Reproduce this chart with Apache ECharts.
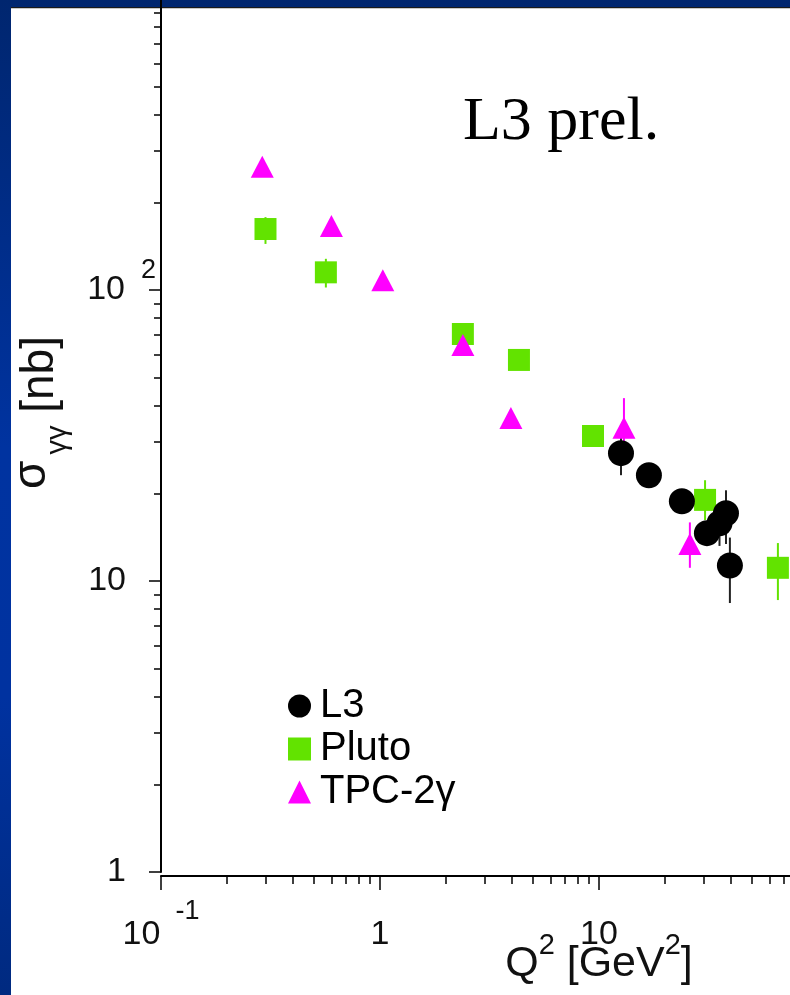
<!DOCTYPE html>
<html>
<head>
<meta charset="utf-8">
<script src="https://cdn.jsdelivr.net/npm/echarts@6/dist/echarts.min.js"></script>
<style>
  html, body { margin: 0; padding: 0; width: 790px; height: 995px; overflow: hidden;
    background: linear-gradient(to bottom, #00266f 0%, #0033a0 45%, #0032a0 70%, #002a80 100%); }
  #panel { position: absolute; left: 11px; top: 7px; width: 779px; height: 988px; background: #fff;
    border-top: 1px solid #1a1a1a; box-shadow: inset 0 1px 0 #c8c8c8; }
  #chart { position: absolute; left: 0; top: 0; width: 790px; height: 995px; }
</style>
</head>
<body>
<div id="panel"></div>
<div id="chart"></div>
<script>
// sigma_gamma-gamma [nb] versus Q^2 [GeV^2]
const l3Q      = [12.6, 16.9, 23.9, 31.1, 35.5, 38.0, 39.6];
const l3Sigma  = [27.5, 23.1, 18.8, 14.6, 15.8, 17.1, 11.3];
const l3Lo     = [23.1, null, null, 13.3, 13.2, 13.4, 8.4];
const l3Hi     = [31.3, null, null, 16.0, 18.5, 20.5, 14.1];

const plutoQ     = [0.30, 0.566, 2.39, 4.31, 9.39, 30.5, 65.6];
const plutoSigma = [162, 115, 70.6, 57.5, 31.5, 19.0, 11.1];
const plutoLo    = [144, 102, null, null, null, 16.2, 8.6];
const plutoHi    = [178, 128, null, null, null, 22.2, 13.5];

const tpcQ     = [0.29, 0.60, 1.03, 2.39, 3.96, 13.0, 26.0];
const tpcSigma = [265, 166, 108, 64.7, 36.3, 33.6, 13.4];
const tpcLo    = [null, null, null, null, 33.5, 26.5, 11.1];
const tpcHi    = [null, null, null, null, 39.0, 42.5, 15.9];

// axis tick labels: mantissa text and exponent text
const xLabelValues = [0.1, 1, 10];
const xLabelBase   = ['10', '1', '10'];
const xLabelExp    = ['-1', '', ''];
const yLabelValues = [1, 10, 100];
const yLabelBase   = ['1', '10', '10'];
const yLabelExp    = ['', '', '2'];

const FONT = '"Liberation Sans", Arial, sans-serif';
const BLACK = '#000000', GREEN = '#62e300', MAGENTA = '#ff00ff';

function labelIndex(values, v) {
  for (let i = 0; i < values.length; i++) {
    if (Math.abs(Math.log10(v) - Math.log10(values[i])) < 1e-6) return i;
  }
  return -1;
}

function errorBars(name, q, lo, hi, color) {
  const rows = [];
  q.forEach((v, i) => { if (lo[i] != null) rows.push([v, lo[i], hi[i]]); });
  return {
    type: 'custom', name: name, z: 1, silent: true, data: rows,
    encode: { x: 0, y: [1, 2] },
    renderItem(params, api) {
      const a = api.coord([api.value(0), api.value(1)]);
      const b = api.coord([api.value(0), api.value(2)]);
      return { type: 'line', shape: { x1: a[0], y1: a[1], x2: b[0], y2: b[1] },
               style: { stroke: color, lineWidth: 2 } };
    }
  };
}

const zip = (a, b) => a.map((v, i) => [v, b[i]]);

const chart = echarts.init(document.getElementById('chart'), null, { renderer: 'canvas' });
chart.setOption({
  animation: false,
  textStyle: { fontFamily: FONT },
  grid: { left: 161, top: -1, width: 876, height: 873, containLabel: false, outerBoundsMode: 'none' },
  xAxis: {
    type: 'log', logBase: 10, min: 0.1, max: 1000, offset: 4,
    name: '{m|Q}{s|2}{m| [GeV}{s|2}{m|]}',
    nameLocation: 'middle', nameGap: 67, nameMoveOverlap: false,
    nameTextStyle: {
      rich: {
        m: { fontFamily: FONT, fontSize: 43, lineHeight: 43, color: '#111', padding: [14, 0, 14, 0] },
        s: { fontFamily: FONT, fontSize: 29, lineHeight: 29, color: '#111', padding: [2, 0, 40, 0] }
      }
    },
    axisLine: { show: true, lineStyle: { color: BLACK, width: 2 } },
    axisTick: { show: true, inside: false, length: 14, lineStyle: { color: BLACK, width: 1.5 } },
    minorTick: { show: true, splitNumber: 9, length: 8, lineStyle: { color: BLACK, width: 1.5 } },
    splitLine: { show: false },
    minorSplitLine: { show: false },
    axisLabel: {
      margin: 32, color: '#111',
      formatter: (v) => {
        const i = labelIndex(xLabelValues, v);
        if (i < 0) return '';
        return '{m|' + xLabelBase[i] + '}' + (xLabelExp[i] ? '{s|' + xLabelExp[i] + '}' : '');
      },
      rich: {
        m: { fontFamily: FONT, fontSize: 34, lineHeight: 34, color: '#111', padding: [20, 0, 0, 0] },
        s: { fontFamily: FONT, fontSize: 27, lineHeight: 27, color: '#111', padding: [0, 0, 27, 15] }
      }
    }
  },
  yAxis: {
    type: 'log', logBase: 10, min: 1, max: 1000,
    name: '{g|σ}{sub|γγ}{m| [nb]}',
    nameLocation: 'middle', nameRotate: 90, nameGap: 98, nameMoveOverlap: false,
    nameTextStyle: {
      padding: [0, 0, 0, 46],
      rich: {
        m:   { fontFamily: FONT, fontSize: 46, lineHeight: 46, color: '#111', padding: [20, 0, 20, 0] },
        g:   { fontFamily: FONT, fontSize: 46, lineHeight: 46, color: '#111', padding: [12, 6, 28, 0] },
        sub: { fontFamily: FONT, fontSize: 29, lineHeight: 29, color: '#111', padding: [46, 0, 11, 0] }
      }
    },
    axisLine: { show: true, lineStyle: { color: BLACK, width: 2 } },
    axisTick: { show: true, inside: false, length: 12, lineStyle: { color: BLACK, width: 1.5 } },
    minorTick: { show: true, splitNumber: 9, length: 7, lineStyle: { color: BLACK, width: 1.5 } },
    splitLine: { show: false },
    minorSplitLine: { show: false },
    axisLabel: {
      margin: 5, color: '#111',
      formatter: (v) => {
        const i = labelIndex(yLabelValues, v);
        if (i < 0) return '';
        if (!yLabelExp[i]) return '{p|' + yLabelBase[i] + '}';
        return '{m|' + yLabelBase[i] + '}{s|' + yLabelExp[i] + '}';
      },
      rich: {
        p: { fontFamily: FONT, fontSize: 34, lineHeight: 34, color: '#111', padding: [0, 30, 0, 0] },
        m: { fontFamily: FONT, fontSize: 34, lineHeight: 34, color: '#111', padding: [16, 0, 16, 0] },
        s: { fontFamily: FONT, fontSize: 27, lineHeight: 27, color: '#111', padding: [0, 0, 39, 16] }
      }
    }
  },
  legend: {
    orient: 'vertical', left: 283, top: 681,
    itemWidth: 23, itemHeight: 23, itemGap: 3, selectedMode: false,
    textStyle: { fontFamily: FONT, fontSize: 40, color: '#000', padding: [0, 0, 0, 4] },
    data: [
      { name: 'L3', icon: 'circle' },
      { name: 'Pluto', icon: 'rect' },
      { name: 'TPC-2γ', icon: 'triangle' }
    ]
  },
  graphic: [{
    type: 'text', left: 463, top: 92, silent: true,
    style: { text: 'L3 prel.', fontFamily: '"Liberation Serif", "Times New Roman", serif', fontSize: 62, fill: '#000' }
  }],
  series: [
    errorBars('Pluto errors', plutoQ, plutoLo, plutoHi, GREEN),
    errorBars('TPC errors', tpcQ, tpcLo, tpcHi, MAGENTA),
    errorBars('L3 errors', l3Q, l3Lo, l3Hi, '#222222'),
    { type: 'scatter', name: 'Pluto', z: 2, symbol: 'rect', symbolSize: 22,
      itemStyle: { color: GREEN, opacity: 1 }, data: zip(plutoQ, plutoSigma) },
    { type: 'scatter', name: 'TPC-2γ', z: 3, symbol: 'triangle', symbolSize: [23, 22],
      itemStyle: { color: MAGENTA, opacity: 1 }, data: zip(tpcQ, tpcSigma) },
    { type: 'scatter', name: 'L3', z: 4, symbol: 'circle', symbolSize: 26,
      itemStyle: { color: BLACK, opacity: 1 }, data: zip(l3Q, l3Sigma) }
  ]
});
</script>
</body>
</html>
